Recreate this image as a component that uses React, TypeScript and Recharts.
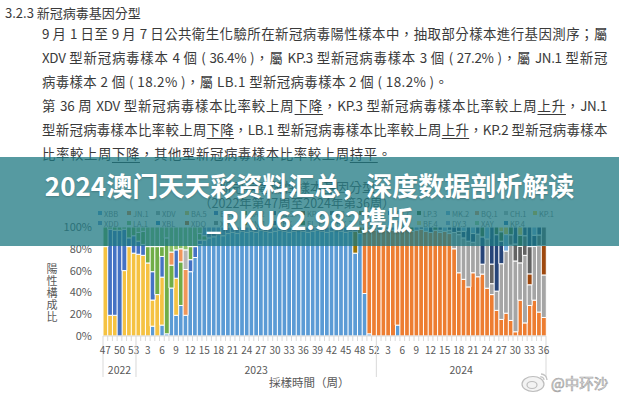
import React from "react";
import { Bar, BarChart, Legend, XAxis, YAxis } from "recharts";

// sampling weeks (category axis), grouped by year
const WEEKS_2022 = [47, 48, 49, 50, 51, 52, 53];
const WEEKS_2023 = [
  1, 2, 3, 4, 5, 6, 7, 8, 9, 10, 11, 12, 13, 14, 15, 16, 17, 18, 19, 20, 21, 22, 23, 24, 25,
  26, 27, 28, 29, 30, 31, 32, 33, 34, 35, 36, 37, 38, 39, 40, 41, 42, 43, 44, 45, 46, 47, 48,
  50, 51, 52,
];
const WEEKS_2024 = [
  1, 2, 3, 4, 5, 6, 7, 8, 9, 10, 11, 12, 13, 14, 15, 16, 17, 18, 19, 20, 21, 22, 23, 24, 25,
  26, 27, 28, 29, 30, 31, 32, 33, 34, 35, 36,
];
const YEARS = [
  { year: "2022", weeks: WEEKS_2022 },
  { year: "2023", weeks: WEEKS_2023 },
  { year: "2024", weeks: WEEKS_2024 },
];

// share of positive samples per lineage (%)
const XBB_2023 = [
  0, 0, 0, 9, 0, 10, 2, 44, 19, 28, 19, 59, 72, 84, 88, 90, 91, 93, 92, 94, 95, 94, 96, 95, 96,
  95, 97, 96, 95, 96, 97, 96, 95, 96, 97, 96, 95, 96, 97, 96, 95, 96, 97, 96, 95, 96, 76, 94, 39,
  2, 0,
];
const XBB_2024 = [
  0, 0, 0, 0, 10, 0, 0, 0, 0, 0, 0, 0, 0, 0, 0, 0, 0, 0, 0, 0, 0, 0, 0, 0, 0, 0, 0, 0, 0, 0, 0,
  0, 0, 0, 0, 0,
];
const JN1_2023 = [
  0, 0, 0, 0, 0, 0, 0, 0, 0, 0, 0, 0, 0, 0, 0, 0, 0, 0, 0, 0, 0, 0, 0, 0, 0, 0, 0, 0, 0, 0, 0,
  0, 0, 0, 0, 0, 0, 0, 0, 0, 0, 0, 0, 0, 0, 0, 0, 0, 58, 96, 97,
];
const JN1_2024 = [
  98, 97, 98, 97, 88, 97, 98, 96, 97, 98, 96, 95, 97, 95, 96, 94, 80, 58, 52, 45, 58, 50, 50,
  32, 38, 20, 14, 18, 12, 3, 26, 12, 28, 26, 18, 17,
];
const XDV_2024 = [
  0, 0, 0, 0, 0, 0, 0, 0, 0, 0, 0, 0, 0, 2, 0, 3, 15, 35, 38, 42, 28, 36, 8, 33, 10, 15, 47, 49,
  58, 50, 27, 62, 19, 39, 50, 39,
];
const BA5_2022 = [82, 19, 19, 0, 60, 82, 76];
const BA5_2023 = [
  75, 74, 67, 24, 38, 44, 0, 0, 34, 0, 0, 0, 0, 0, 0, 0, 0, 0, 0, 0, 0, 0, 0, 0, 0, 0, 0, 0, 0,
  0, 0, 0, 0, 0, 0, 0, 0, 0, 0, 0, 0, 0, 0, 0, 0, 0, 0, 0, 0, 0, 0,
];
const BF7_2022 = [0, 79, 78, 97, 38, 8, 16];
const BF7_2023 = [
  12, 10, 0, 26, 0, 19, 0, 0, 26, 0, 0, 11, 10, 4, 0, 0, 0, 0, 0, 0, 0, 0, 0, 0, 0, 0, 0, 0, 0,
  0, 0, 0, 0, 0, 0, 0, 0, 0, 0, 0, 0, 0, 0, 0, 0, 0, 0, 0, 0, 0, 0,
];
const BA2_2022 = [18, 2, 3, 3, 2, 10, 8];
const BA2_2023 = [
  8, 12, 15, 23, 44, 9, 88, 21, 0, 40, 0, 12, 0, 6, 4, 0, 0, 0, 0, 0, 0, 0, 0, 0, 0, 0, 0, 0, 0,
  0, 0, 0, 0, 0, 0, 0, 0, 0, 0, 0, 0, 0, 0, 0, 0, 0, 0, 0, 0, 0, 0,
];
const LA1_2023 = [
  5, 4, 18, 18, 18, 18, 10, 23, 21, 20, 21, 18, 18, 6, 0, 0, 0, 0, 0, 0, 0, 0, 0, 0, 0, 0, 0, 0,
  0, 0, 0, 0, 0, 0, 0, 0, 0, 0, 0, 0, 0, 0, 0, 0, 0, 0, 0, 0, 0, 0, 0,
];
const BQ1_2023 = [
  0, 0, 0, 0, 0, 0, 0, 12, 0, 12, 42, 0, 0, 0, 0, 0, 0, 0, 0, 0, 0, 0, 0, 0, 0, 0, 0, 0, 0, 0, 0,
  0, 0, 0, 0, 0, 0, 0, 0, 0, 0, 0, 0, 0, 0, 0, 0, 0, 0, 0, 0,
];
const CH1_2023 = [
  0, 0, 0, 0, 0, 0, 0, 0, 0, 0, 18, 0, 0, 0, 0, 0, 0, 0, 0, 0, 0, 0, 0, 0, 0, 0, 0, 0, 0, 0, 0,
  0, 0, 0, 0, 0, 0, 0, 0, 0, 0, 0, 0, 0, 0, 0, 0, 0, 0, 0, 0,
];
const JG3_2023 = [
  0, 0, 0, 0, 0, 0, 0, 0, 0, 0, 0, 0, 0, 0, 0, 0, 0, 0, 0, 0, 0, 0, 0, 0, 0, 0, 0, 0, 0, 0, 0,
  0, 0, 0, 0, 0, 0, 0, 0, 0, 0, 0, 0, 0, 0, 0, 20, 6, 3, 2, 0,
];
const XDD_2023 = [
  0, 0, 0, 0, 0, 0, 0, 0, 0, 0, 0, 0, 0, 0, 8, 10, 9, 7, 8, 6, 5, 6, 4, 5, 4, 5, 3, 4, 5, 4, 3,
  4, 5, 4, 3, 4, 5, 4, 3, 4, 5, 4, 3, 4, 5, 4, 4, 0, 0, 0, 3,
];
const XDD_2024 = [
  2, 0, 0, 3, 2, 0, 0, 0, 3, 0, 0, 0, 0, 0, 0, 0, 0, 0, 0, 0, 0, 0, 0, 0, 0, 0, 0, 0, 0, 0, 0,
  0, 0, 0, 0, 0,
];
const KP3_2024 = [
  0, 0, 0, 0, 0, 0, 0, 0, 0, 0, 0, 0, 0, 0, 0, 0, 0, 0, 0, 0, 0, 0, 0, 0, 0, 0, 0, 0, 0, 0, 0,
  0, 10, 0, 0, 27,
];
const LB1_2024 = [
  0, 0, 0, 0, 0, 0, 0, 0, 0, 0, 0, 0, 0, 0, 0, 0, 0, 3, 0, 0, 0, 0, 0, 0, 18, 0, 0, 0, 8, 12,
  12, 18, 25, 0, 8, 17,
];
const KP2_2024 = [
  0, 3, 0, 0, 0, 0, 2, 0, 0, 2, 0, 5, 0, 3, 0, 3, 5, 4, 6, 13, 8, 6, 22, 0, 34, 44, 19, 0, 0,
  12, 0, 8, 18, 8, 6, 0,
];
const LP3_2024 = [
  0, 0, 2, 0, 0, 3, 0, 4, 0, 0, 0, 0, 3, 0, 0, 0, 0, 0, 0, 0, 0, 0, 8, 0, 0, 6, 8, 0, 6, 0, 8,
  0, 0, 0, 0, 0,
];
const MK2_2024 = [
  0, 0, 0, 0, 0, 0, 0, 0, 0, 0, 4, 0, 0, 0, 4, 0, 0, 0, 4, 0, 6, 0, 0, 8, 0, 0, 0, 13, 0, 0, 0,
  0, 0, 6, 0, 0,
];
const KP1_2024 = [
  0, 0, 0, 0, 0, 0, 0, 0, 0, 0, 0, 0, 0, 0, 0, 0, 0, 0, 0, 0, 0, 0, 0, 0, 0, 0, 4, 6, 0, 0, 6,
  0, 0, 0, 0, 0,
];
const KP4_2024 = [
  0, 0, 0, 0, 0, 0, 0, 0, 0, 0, 0, 0, 0, 0, 0, 0, 0, 0, 0, 0, 0, 8, 12, 27, 0, 15, 8, 14, 16,
  23, 21, 0, 0, 21, 18, 0,
];

// lineages in stacking / legend order
const SERIES: { key: string; name: string; color: string; data?: Record<string, number[]> }[] = [
  { key: "XBB", name: "XBB", color: "#5B9BD5", data: { 2023: XBB_2023, 2024: XBB_2024 } },
  { key: "JN1", name: "JN.1", color: "#ED7D31", data: { 2023: JN1_2023, 2024: JN1_2024 } },
  { key: "XDV", name: "XDV", color: "#A5A5A5", data: { 2024: XDV_2024 } },
  { key: "BA5", name: "BA.5", color: "#F5C242", data: { 2022: BA5_2022, 2023: BA5_2023 } },
  { key: "BF7", name: "BF.7", color: "#4472C4", data: { 2022: BF7_2022, 2023: BF7_2023 } },
  { key: "BA2", name: "BA.2", color: "#70AD47", data: { 2022: BA2_2022, 2023: BA2_2023 } },
  { key: "EG5", name: "EG.5", color: "#255E91" },
  { key: "KP3", name: "KP.3", color: "#9E480E", data: { 2024: KP3_2024 } },
  { key: "LB1", name: "LB.1", color: "#636363", data: { 2024: LB1_2024 } },
  { key: "JG3", name: "JG.3", color: "#997300", data: { 2023: JG3_2023 } },
  { key: "KP2", name: "KP.2", color: "#264478", data: { 2024: KP2_2024 } },
  { key: "LP3", name: "LP.3", color: "#43682B", data: { 2024: LP3_2024 } },
  { key: "MK2", name: "MK.2", color: "#7CAFDD", data: { 2024: MK2_2024 } },
  { key: "BQ1", name: "BQ.1", color: "#F1975A", data: { 2023: BQ1_2023 } },
  { key: "CH1", name: "CH.1", color: "#B7B7B7", data: { 2023: CH1_2023 } },
  { key: "KP1", name: "KP.1", color: "#FFCD33", data: { 2024: KP1_2024 } },
  { key: "XDD", name: "XDD", color: "#698ED0", data: { 2023: XDD_2023, 2024: XDD_2024 } },
  { key: "LA1", name: "LA.1", color: "#8CC168", data: { 2023: LA1_2023 } },
  { key: "XBL", name: "XBL", color: "#327DC2" },
  { key: "XDQ", name: "XDQ", color: "#D26012" },
  { key: "XBF", name: "XBF", color: "#848484" },
  { key: "BN1", name: "BN.1", color: "#CC9A00" },
  { key: "XBK", name: "XBK", color: "#3A5FA0" },
  { key: "FL1", name: "FL.1", color: "#5A8A39" },
  { key: "HK3", name: "HK.3", color: "#9DC3E6" },
  { key: "JD1", name: "JD.1", color: "#F4B183" },
  { key: "XDA", name: "XDA", color: "#C9C9C9" },
  { key: "BF4", name: "BF.4", color: "#FFD966" },
  { key: "DY3", name: "DY.3", color: "#8FAADC" },
  { key: "XAY", name: "XAY", color: "#A9D18E" },
  { key: "KP4", name: "KP.4", color: "#2E75B6" },
];

const Y_TICKS = [0, 0.2, 0.4, 0.6, 0.8, 1];

const rows: any[] = [];
const groups: { year: string; start: number; end: number }[] = [];
YEARS.forEach(({ year, weeks }) => {
  const start = rows.length;
  weeks.forEach((w, i) => {
    const row: any = { id: `${year}-${w}`, week: String(w), year };
    SERIES.forEach((s) => {
      row[s.key] = s.data?.[year]?.[i] ?? 0;
    });
    rows.push(row);
  });
  groups.push({ year, start, end: rows.length - 1 });
});

const FONT = '"Noto Sans CJK TC", "Noto Sans", sans-serif';
const GRAY = "#595959";
const PLOT_LEFT = 103;
const PLOT_RIGHT = 546;
const BAND = (PLOT_RIGHT - PLOT_LEFT) / rows.length;

function WeekTick(props: any) {
  const { x, y, index } = props;
  const left = x - BAND / 2;
  const right = x + BAND / 2;
  const row = rows[index];
  const g = groups.find((gr) => index >= gr.start && index <= gr.end)!;
  const mid = (g.start + g.end) / 2;
  const isLast = index === rows.length - 1;
  return (
    <g>
      <line x1={left} x2={left} y1={y} y2={y + 5} stroke="#D9D9D9" />
      {isLast && <line x1={right} x2={right} y1={y} y2={y + 41} stroke="#D9D9D9" />}
      {index === g.start && <line x1={left} x2={left} y1={y + 5} y2={y + 41} stroke="#D9D9D9" />}
      {index % 3 === 0 && (
        <text x={x} y={y + 18} textAnchor="middle" fontSize={10} fill={GRAY} fontFamily={FONT}>
          {row.week}
        </text>
      )}
      {index === Math.floor(mid) && (
        <text
          x={x + (mid - index) * BAND}
          y={y + 38}
          textAnchor="middle"
          fontSize={10.5}
          fill={GRAY}
          fontFamily={FONT}
        >
          {g.year}
        </text>
      )}
    </g>
  );
}

function LegendGrid({ payload }: any) {
  const order = (p: any) => SERIES.findIndex((s) => s.key === p.dataKey);
  const items = [...(payload ?? [])].sort((a, b) => order(a) - order(b));
  return (
    <div style={{ position: "relative", width: 619, height: 22 }}>
      {items.map((p: any, i: number) => {
        const row = i < 16 ? 0 : 1;
        const col = row ? i - 16 : i;
        return (
          <div
            key={p.dataKey}
            style={{
              position: "absolute",
              left: 98 + col * 29,
              top: row * 10,
              height: 10,
              display: "flex",
              alignItems: "center",
              gap: 2,
              fontSize: 7.5,
              color: "#7F7F7F",
              fontFamily: FONT,
              whiteSpace: "nowrap",
            }}
          >
            <span style={{ width: 4, height: 4, background: p.color, display: "inline-block" }} />
            {p.value}
          </div>
        );
      })}
    </div>
  );
}

const U = ({ children }: any) => (
  <span style={{ textDecoration: "underline", textUnderlineOffset: 3 }}>{children}</span>
);

const lineStyle = (top: number, justify = true, spacing = -0.3): React.CSSProperties => ({
  position: "absolute",
  left: 42,
  top,
  width: 565,
  height: 24,
  lineHeight: "24px",
  fontSize: 13.4,
  letterSpacing: spacing,
  whiteSpace: "nowrap",
  textAlign: justify ? "justify" : "left",
  textAlignLast: justify ? "justify" : "left",
  color: "#3A3A3A",
});

export default function App() {
  return (
    <div
      style={{
        position: "absolute",
        left: 0,
        top: 0,
        width: 619,
        height: 400,
        overflow: "hidden",
        background: "#fff",
        fontFamily: FONT,
      }}
    >
      {/* document text */}
      <div style={{ position: "absolute", left: 5, top: 4, fontSize: 13, lineHeight: "18px", color: "#3A3A3A" }}>
        3.2.3 新冠病毒基因分型
      </div>
      <div style={lineStyle(21)}>
        9 月 1 日至 9 月 7 日公共衛生化驗所在新冠病毒陽性樣本中，抽取部分樣本進行基因測序；屬
      </div>
      <div style={lineStyle(45)}>
        XDV 型新冠病毒樣本 4 個 ( 36.4% )，屬 KP.3 型新冠病毒樣本 3 個 ( 27.2% )，屬 JN.1 型新冠
      </div>
      <div style={lineStyle(69, false, 0.4)}>
        病毒樣本 2 個 ( 18.2% )，屬 LB.1 型新冠病毒樣本 2 個 ( 18.2% )。
      </div>
      <div style={lineStyle(93)}>
        第 36 周 XDV 型新冠病毒樣本比率較上周<U>下降</U>，KP.3 型新冠病毒樣本比率較上周<U>上升</U>，JN.1
      </div>
      <div style={lineStyle(117)}>
        型新冠病毒樣本比率較上周<U>下降</U>，LB.1 型新冠病毒樣本比率較上周<U>上升</U>，KP.2 型新冠病毒樣本
      </div>
      <div style={lineStyle(141, false, 0.6)}>
        比率較上周<U>下降</U>，其他型新冠病毒樣本比率較上周<U>持平</U>。
      </div>

      {/* chart titles */}
      <div
        style={{
          position: "absolute",
          left: 0,
          width: 594,
          top: 179,
          lineHeight: "15px",
          textAlign: "center",
          fontSize: 13,
          color: GRAY,
        }}
      >
        新冠病毒陽性樣本基因分型
      </div>
      <div
        style={{
          position: "absolute",
          left: 0,
          width: 594,
          top: 196,
          lineHeight: "14px",
          textAlign: "center",
          fontSize: 12.5,
          color: GRAY,
        }}
      >
        （2022年第47周至2024年第36周）
      </div>

      <div style={{ position: "absolute", left: 0, top: 0 }}>
        <BarChart
          width={619}
          height={400}
          data={rows}
          stackOffset="expand"
          barCategoryGap={0}
          barGap={0}
          margin={{ top: 205, right: 619 - PLOT_RIGHT, bottom: 0, left: 60 }}
        >
          <Legend
            verticalAlign="top"
            align="left"
            content={<LegendGrid />}
            wrapperStyle={{ left: 0, top: 208, width: 619 }}
          />
          <XAxis
            dataKey="id"
            interval={0}
            height={64}
            tickSize={0}
            tickMargin={0}
            tickLine={false}
            axisLine={{ stroke: "#D9D9D9" }}
            tick={<WeekTick />}
          />
          <YAxis
            domain={[0, 1]}
            ticks={Y_TICKS}
            width={43}
            axisLine={false}
            tickLine={false}
            tickMargin={5}
            tickFormatter={(v: number) => `${Math.round(v * 100)}%`}
            tick={{ fill: GRAY, fontSize: 11, fontFamily: FONT }}
          />
          {SERIES.map((s) => (
            <Bar
              key={s.key}
              dataKey={s.key}
              name={s.name}
              stackId="share"
              fill={s.color}
              stroke="#fff"
              strokeWidth={1}
              isAnimationActive={false}
            />
          ))}
        </BarChart>
      </div>

      {/* axis titles */}
      <div
        style={{
          position: "absolute",
          left: 46,
          top: 263,
          fontSize: 11,
          lineHeight: "12px",
          writingMode: "vertical-rl",
          letterSpacing: 1,
          color: GRAY,
        }}
      >
        陽性構成比
      </div>
      <div style={{ position: "absolute", left: 269, top: 374, fontSize: 11.5, color: GRAY, whiteSpace: "nowrap" }}>
        採樣時間（周）
      </div>

      {/* watermark */}
      <svg style={{ position: "absolute", left: 520, top: 370 }} width={30} height={24}>
        <ellipse cx={13} cy={14} rx={11} ry={7.5} fill="#f3f3f3" stroke="#bdbdbd" strokeWidth={1.2} />
        <ellipse cx={12} cy={15} rx={5} ry={3.5} fill="none" stroke="#bdbdbd" strokeWidth={1.2} />
        <path d="M21 4 A6 6 0 0 1 27 10" fill="none" stroke="#c4c4c4" strokeWidth={1.4} />
        <path d="M20 7 A3 3 0 0 1 24 10" fill="none" stroke="#c4c4c4" strokeWidth={1.2} />
      </svg>
      <div
        style={{
          position: "absolute",
          left: 551,
          top: 374,
          fontSize: 14.5,
          lineHeight: "18px",
          color: "#f2f2f2",
          WebkitTextStroke: "0.7px #a8a8a8",
          whiteSpace: "nowrap",
          fontFamily: '"Noto Sans CJK SC", sans-serif',
        }}
      >
        @中环沙
      </div>

      {/* overlay banner */}
      <div
        style={{
          position: "absolute",
          left: 0,
          top: 157,
          width: 619,
          height: 89,
          background: "rgba(30, 120, 130, 0.75)",
          zIndex: 10,
          color: "#fff",
          fontFamily: '"Noto Sans CJK SC", sans-serif',
          fontWeight: 700,
          fontSize: 26,
          textAlign: "center",
          textShadow: "0 1px 2px rgba(0,0,0,0.2)",
        }}
      >
        <div style={{ position: "absolute", left: 0, width: 619, top: 11, lineHeight: "34px", whiteSpace: "nowrap" }}>
          2024澳门天天彩资料汇总，深度数据剖析解读
        </div>
        <div style={{ position: "absolute", left: 0, width: 619, top: 45, lineHeight: "34px", whiteSpace: "nowrap" }}>
          _RKU62.982携版
        </div>
      </div>
    </div>
  );
}
